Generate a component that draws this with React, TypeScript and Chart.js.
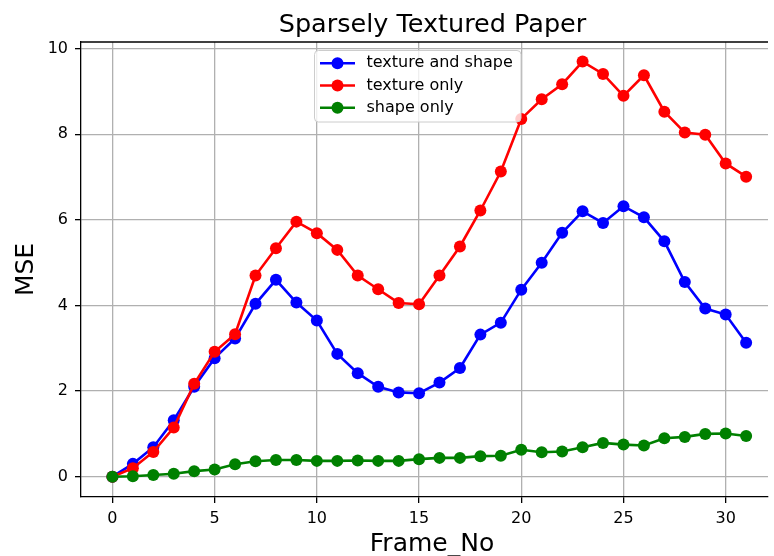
import { useEffect, useRef } from 'react';
import { Chart, registerables } from 'chart.js';

Chart.register(...registerables);

const FRAMES = [0, 1, 2, 3, 4, 5, 6, 7, 8, 9, 10, 11, 12, 13, 14, 15, 16, 17, 18, 19, 20, 21, 22, 23, 24, 25, 26, 27, 28, 29, 30, 31];
const TEXTURE_AND_SHAPE = [0, 0.3, 0.69, 1.32, 2.1, 2.77, 3.23, 4.04, 4.6, 4.07, 3.65, 2.87, 2.42, 2.1, 1.97, 1.95, 2.2, 2.54, 3.32, 3.6, 4.37, 5.0, 5.7, 6.2, 5.93, 6.32, 6.06, 5.5, 4.55, 3.93, 3.79, 3.13];
const TEXTURE_ONLY = [0, 0.2, 0.58, 1.15, 2.17, 2.92, 3.33, 4.7, 5.34, 5.96, 5.69, 5.3, 4.7, 4.38, 4.06, 4.03, 4.7, 5.38, 6.22, 7.13, 8.36, 8.82, 9.17, 9.7, 9.41, 8.9, 9.38, 8.53, 8.04, 7.99, 7.32, 7.01];
const SHAPE_ONLY = [0, 0.01, 0.04, 0.07, 0.13, 0.17, 0.29, 0.36, 0.39, 0.39, 0.37, 0.37, 0.38, 0.37, 0.37, 0.41, 0.44, 0.44, 0.48, 0.49, 0.63, 0.57, 0.59, 0.69, 0.79, 0.75, 0.73, 0.9, 0.93, 1.0, 1.01, 0.95];
const SERIES_LABELS = ['texture and shape', 'texture only', 'shape only'];
const SERIES_COLORS = ['#0000ff', '#ff0000', '#008000'];
const X_TICKS = [0, 5, 10, 15, 20, 25, 30];
const Y_TICKS = [0, 2, 4, 6, 8, 10];
const TITLE = 'Sparsely Textured Paper';
const X_LABEL = 'Frame_No';
const Y_LABEL = 'MSE';

const FONT = '"DejaVu Sans", sans-serif';

export default function App() {
  const ref = useRef<HTMLCanvasElement>(null);

  useEffect(() => {
    const overlay = {
      id: 'overlay',
      afterDraw(chart: any) {
        const ctx = chart.ctx as CanvasRenderingContext2D;
        const ca = chart.chartArea;
        ctx.save();
        // top spine
        ctx.strokeStyle = '#000';
        ctx.lineWidth = 1.3;
        ctx.beginPath();
        ctx.moveTo(ca.left, ca.top);
        ctx.lineTo(ca.right, ca.top);
        ctx.stroke();

        // title
        ctx.fillStyle = '#000';
        ctx.font = `25.5px ${FONT}`;
        ctx.textAlign = 'center';
        ctx.textBaseline = 'alphabetic';
        ctx.fillText(TITLE, 432.5, 31.5);

        // x label
        ctx.font = `25px ${FONT}`;
        ctx.fillText(X_LABEL, 432, 551);

        // y label
        ctx.save();
        ctx.translate(32.5, 269.5);
        ctx.rotate(-Math.PI / 2);
        ctx.textBaseline = 'alphabetic';
        ctx.fillText(Y_LABEL, 0, 0);
        ctx.restore();

        // legend
        const lx = 314.5, ly = 50.5, lw = 206.5, lh = 71.5, r = 4;
        ctx.beginPath();
        ctx.moveTo(lx + r, ly);
        ctx.lineTo(lx + lw - r, ly);
        ctx.quadraticCurveTo(lx + lw, ly, lx + lw, ly + r);
        ctx.lineTo(lx + lw, ly + lh - r);
        ctx.quadraticCurveTo(lx + lw, ly + lh, lx + lw - r, ly + lh);
        ctx.lineTo(lx + r, ly + lh);
        ctx.quadraticCurveTo(lx, ly + lh, lx, ly + lh - r);
        ctx.lineTo(lx, ly + r);
        ctx.quadraticCurveTo(lx, ly, lx + r, ly);
        ctx.closePath();
        ctx.fillStyle = 'rgba(255,255,255,0.8)';
        ctx.fill();
        ctx.strokeStyle = '#cccccc';
        ctx.lineWidth = 1;
        ctx.stroke();

        SERIES_LABELS.forEach((label, i) => {
          const y = 63.3 + i * 22.2;
          ctx.strokeStyle = SERIES_COLORS[i];
          ctx.lineWidth = 2.6;
          ctx.beginPath();
          ctx.moveTo(320, y);
          ctx.lineTo(355, y);
          ctx.stroke();
          ctx.fillStyle = SERIES_COLORS[i];
          ctx.beginPath();
          ctx.arc(337.5, y, 6, 0, Math.PI * 2);
          ctx.fill();
          ctx.fillStyle = '#000';
          ctx.font = `16px ${FONT}`;
          ctx.textAlign = 'left';
          ctx.textBaseline = 'middle';
          ctx.fillText(label, 366.5, y);
        });
        ctx.restore();
      },
    };

    const mk = (vals: number[], i: number, order: number) => ({
      label: SERIES_LABELS[i],
      data: FRAMES.map((f, k) => ({ x: f, y: vals[k] })),
      borderColor: SERIES_COLORS[i],
      backgroundColor: SERIES_COLORS[i],
      pointBackgroundColor: SERIES_COLORS[i],
      pointBorderColor: SERIES_COLORS[i],
      pointBorderWidth: 0,
      pointRadius: 6,
      borderWidth: 2.6,
      tension: 0,
      fill: false,
      order,
    });

    const chart = new Chart(ref.current as HTMLCanvasElement, {
      type: 'line',
      data: {
        datasets: [
          mk(TEXTURE_AND_SHAPE, 0, 2),
          mk(TEXTURE_ONLY, 1, 1),
          mk(SHAPE_ONLY, 2, 0),
        ] as any,
      },
      options: {
        responsive: false,
        animation: false,
        devicePixelRatio: 1,
        layout: { padding: { top: 42, left: 0, right: 0, bottom: 0 } },
        plugins: {
          legend: { display: false },
          tooltip: { enabled: false },
          title: { display: false },
        },
        scales: {
          x: {
            type: 'linear',
            min: -1.537,
            max: 32.07,
            afterFit(s: any) { s.height = 59; },
            afterBuildTicks(s: any) { s.ticks = X_TICKS.map((v) => ({ value: v })); },
            grid: { color: '#b0b0b0', lineWidth: 1.3, tickLength: 6, tickColor: '#000', tickWidth: 1.3 },
            border: { color: '#000', width: 1.3 },
            ticks: { font: { family: FONT, size: 16 }, color: '#000', padding: 6, maxRotation: 0, autoSkip: false },
          },
          y: {
            type: 'linear',
            min: -0.474,
            max: 10.157,
            afterFit(s: any) { s.width = 81; },
            afterBuildTicks(s: any) { s.ticks = Y_TICKS.map((v) => ({ value: v })); },
            grid: { color: '#b0b0b0', lineWidth: 1.3, tickLength: 6, tickColor: '#000', tickWidth: 1.3 },
            border: { color: '#000', width: 1.3 },
            ticks: { font: { family: FONT, size: 16 }, color: '#000', padding: 7, autoSkip: false },
          },
        },
      } as any,
      plugins: [overlay],
    });
    return () => chart.destroy();
  }, []);

  return (
    <div style={{ position: 'fixed', left: 0, top: 0, width: 774, height: 556, background: '#fff' }}>
      <canvas ref={ref} width={774} height={556} />
    </div>
  );
}
